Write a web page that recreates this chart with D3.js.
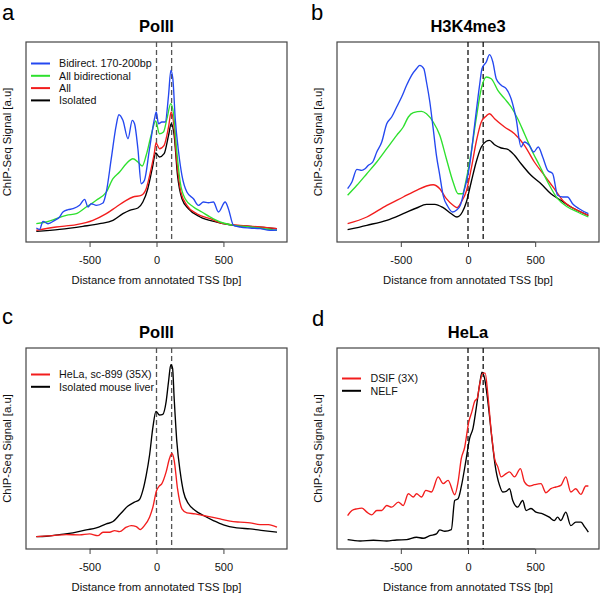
<!DOCTYPE html>
<html><head><meta charset="utf-8">
<script src="https://cdn.jsdelivr.net/npm/d3@7"></script>
<style>body{margin:0;background:#fff}svg{display:block}text{font-family:"Liberation Sans",Arial,sans-serif}</style>
</head><body><svg id="c" width="600" height="595"></svg>
<script>
// ---------- data (bp, signal a.u.) ----------
const xTicks = [-500, 0, 500];
const markerLines = [0, 113];

// Panel a: PolII
const aBidirect = [[-898,14],[-873,12.7],[-848,20.7],[-811,18.3],[-761,21.7],[-724,25],[-699,30],[-661,32.3],[-624,33.3],[-575,36.7],[-537,42.7],[-512,35],[-487,38.3],[-450,36.7],[-400,39],[-375,50],[-338,83.3],[-301,116.7],[-281,127.3],[-251,121.7],[-213,103.3],[-181,121.7],[-164,118.3],[-139,93.3],[-114,58.3],[-90,61.7],[-52,93.3],[-15,123.3],[-2,130],[15,118.3],[40,120],[65,120],[90,146.7],[107,171.7],[122,163.3],[140,123.3],[165,90],[190,66.7],[227,50],[276,43.3],[313,36.7],[351,40],[388,39.3],[425,40],[463,30],[513,40],[537,33.3],[575,16.7],[625,15],[699,14],[774,13.3],[848,11.7],[900,12]];
const aAllBidir = [[-898,18.3],[-823,20],[-749,23.3],[-674,26.7],[-599,28.3],[-525,35],[-450,41.7],[-375,50],[-325,63.3],[-276,70],[-226,78.3],[-176,83.3],[-139,80],[-107,76],[-77,86.7],[-40,106.7],[-6,121],[22,108.3],[52,110],[78,123.3],[107,138.3],[127,128.3],[152,90],[177,60],[214,43.3],[276,35],[339,30],[401,25],[475,20],[575,16.7],[699,15],[900,11.7]];
const aAll = [[-898,11.7],[-749,15],[-599,17.3],[-475,21.7],[-375,28.3],[-301,35],[-226,41.7],[-176,45],[-114,46.7],[-77,53.3],[-40,73.3],[-15,90],[-4,99],[22,93.3],[57,96.7],[90,115],[110,130],[127,120],[152,80],[182,50],[227,36.7],[301,28.3],[401,23.3],[500,18.3],[625,16.7],[774,15],[900,13.3]];
const aIsolated = [[-898,10.7],[-724,12.7],[-550,15.7],[-425,18.3],[-325,21.7],[-251,28.3],[-201,31.7],[-139,34],[-102,40],[-65,53.3],[-32,73.3],[-6,89],[22,85],[57,88.3],[90,106.7],[110,118.3],[132,106.7],[157,66.7],[190,43.3],[239,33.3],[326,25],[450,20],[575,16.7],[699,15.7],[900,13.3]];

// Panel b: H3K4me3
const bBidirect = [[-896,53.3],[-864,60],[-827,72.7],[-790,71.7],[-766,73.3],[-741,76.7],[-709,80],[-679,90],[-642,100],[-605,118.3],[-568,125],[-531,135],[-494,145],[-457,156.7],[-420,166.7],[-383,173.3],[-359,176.7],[-329,173.3],[-309,160],[-284,140],[-259,113.3],[-235,86.7],[-210,66.7],[-185,46.7],[-148,35],[-116,30],[-87,31.7],[-57,36.7],[-25,53.3],[-9,62],[12,76.7],[49,116.7],[86,156.7],[104,173.3],[136,180],[160,187.3],[185,180],[210,163.3],[247,156.7],[284,153.3],[321,143.3],[358,123.3],[395,95],[420,100],[456,96.7],[489,90],[523,95],[556,85],[593,71.7],[630,68.3],[667,46.7],[704,45],[741,45],[778,38.3],[827,33.3],[896,28.3]];
const bAllBidir = [[-896,46.7],[-827,56.7],[-753,68.3],[-679,80],[-605,93.3],[-531,106.7],[-482,115],[-444,125],[-407,129.3],[-346,130.7],[-309,128.3],[-259,120],[-210,106.7],[-161,83.3],[-111,60],[-74,48.3],[-42,48.3],[-12,63.3],[24,90],[61,123.3],[99,153.3],[136,165],[173,163.3],[222,151.7],[272,143.3],[321,135],[370,123.3],[420,108.3],[469,93.3],[531,76.7],[593,60],[667,43.3],[741,35],[815,30],[896,25]];
const bAll = [[-896,18.3],[-753,25],[-605,36.7],[-482,45],[-383,51.7],[-309,56],[-259,57.3],[-210,53.3],[-161,43.3],[-111,36.7],[-82,34.3],[-50,40],[-12,51],[24,73.3],[61,100],[99,120],[136,126],[160,128.3],[198,123.3],[272,115],[346,108.3],[420,96.7],[494,80],[568,66.7],[642,53.3],[716,40],[790,33.3],[896,26.7]];
const bIsolated = [[-896,12.3],[-753,16.7],[-605,21.7],[-482,28.3],[-383,34],[-309,37.7],[-247,37.7],[-185,34.3],[-124,28.3],[-82,25],[-42,30],[-12,40],[24,60],[61,80],[99,95],[136,100.7],[160,101.7],[198,97.3],[247,94],[296,92.7],[346,86.7],[395,78.3],[469,66.7],[543,58.3],[617,48.3],[691,41.7],[766,35],[896,26.7]];

// Panel c: PolII
const cHeLa = [[-898,12.3],[-774,13.3],[-674,14.3],[-575,14],[-500,15],[-438,13.3],[-400,16.7],[-350,16.7],[-313,18.3],[-276,17.3],[-226,21.7],[-189,23.3],[-151,22.3],[-122,19.3],[-90,23.3],[-52,31.7],[-27,41.7],[0,58],[20,62.5],[40,65],[72,76.7],[97,90],[115,95],[132,88.3],[157,60],[190,40],[227,36],[289,35],[351,33.3],[413,31.7],[475,30],[550,27.7],[625,26.7],[699,26],[774,24.3],[836,24.3],[900,21.7]];
const cMouse = [[-898,12.3],[-823,12.7],[-724,14.3],[-624,16],[-525,19],[-450,21],[-375,25],[-325,27.3],[-276,34],[-213,42.7],[-164,46.7],[-127,49.3],[-102,58.3],[-77,73.3],[-52,93.3],[-27,121],[-4,137],[22,133.3],[47,134],[72,146.7],[90,166.7],[107,183.3],[120,180],[132,150],[152,106.7],[177,76.7],[202,56.7],[239,45],[289,38.3],[351,33.3],[425,28.3],[500,24],[600,21],[699,20],[798,18.3],[900,16.7]];

// Panel d: HeLa
const dDSIF = [[-896,33.3],[-864,38.3],[-827,40],[-790,40.7],[-753,36.7],[-716,34],[-679,38.3],[-642,38.3],[-605,43.3],[-568,41.7],[-518,46.7],[-482,43.3],[-444,55],[-407,51.7],[-383,55],[-346,51.7],[-314,58.3],[-272,56.7],[-222,71.7],[-185,65],[-148,68.3],[-99,54],[-74,66.7],[-50,90],[-25,101],[5,126],[29,136.7],[49,146.7],[69,150],[86,163.3],[111,175],[128,175],[148,153.3],[173,116.7],[198,90],[222,81.7],[247,71.7],[284,75],[309,76.7],[346,71.7],[390,80],[420,66.7],[457,62.7],[494,64],[543,65],[580,56],[617,60],[654,61.7],[691,63.3],[728,71.7],[765,56.7],[802,60],[840,54.3],[877,62.7],[896,62.7]];
const dNELF = [[-896,9.3],[-803,8],[-704,8.7],[-605,8],[-531,9],[-457,9.3],[-383,11.7],[-333,10.7],[-284,13.3],[-235,15],[-210,19],[-173,17.7],[-124,19.3],[-99,48.3],[-74,50],[-50,62],[-13,90],[12,110],[37,120],[61,140],[86,163.3],[104,176],[123,170],[148,146.7],[178,110],[202,83.3],[235,63.3],[259,56.7],[284,57.3],[309,60],[333,48.3],[370,41.7],[407,48.3],[432,38.3],[469,40.3],[506,36.7],[556,35],[605,31.7],[642,28.3],[667,31.7],[691,28.3],[728,36.7],[765,23.3],[802,26.7],[840,26.7],[870,21.7],[896,16.7]];

// ---------- drawing ----------
const COL = {blue:"#2448f0", green:"#2ee02e", red:"#f21d1d", black:"#000000"};
const svg = d3.select("#c");

const panels = [
  {letter:"a", title:"PolII", x0:26, x1:287, y0:42, y1:242, lx:2, ly:20, dash:"#555",
   series:[[aIsolated,COL.black],[aAll,COL.red],[aAllBidir,COL.green],[aBidirect,COL.blue]],
   legend:{x:31, y:63.5, tx:59, items:[["Bidirect. 170-200bp",COL.blue],["All bidirectional",COL.green],["All",COL.red],["Isolated",COL.black]]}},
  {letter:"b", title:"H3K4me3", x0:337, x1:599, y0:42, y1:242, lx:311, ly:20, dash:"#111",
   series:[[bIsolated,COL.black],[bAll,COL.red],[bAllBidir,COL.green],[bBidirect,COL.blue]], legend:null},
  {letter:"c", title:"PolII", x0:26, x1:287, y0:348, y1:549, lx:2, ly:324, dash:"#555",
   series:[[cMouse,COL.black],[cHeLa,COL.red]],
   legend:{x:31, y:374.5, tx:59, items:[["HeLa, sc-899 (35X)",COL.red],["Isolated mouse liver",COL.black]]}},
  {letter:"d", title:"HeLa", x0:337, x1:599, y0:348, y1:549, lx:312, ly:326, dash:"#111",
   series:[[dNELF,COL.black],[dDSIF,COL.red]],
   legend:{x:342, y:378.5, tx:370.5, items:[["DSIF (3X)",COL.red],["NELF",COL.black]]}}
];

panels.forEach(p => {
  const g = svg.append("g");
  const x = d3.scaleLinear().domain([-975, 975]).range([p.x0, p.x1]);
  const y = d3.scaleLinear().domain([0, 200]).range([p.y1, p.y0]);
  const cx = (p.x0 + p.x1) / 2, cy = (p.y0 + p.y1) / 2;

  g.append("text").attr("x", p.lx).attr("y", p.ly).attr("font-size", 22).text(p.letter);
  g.append("text").attr("x", cx).attr("y", p.y0 - 10.5).attr("text-anchor", "middle")
    .attr("font-size", 16.5).attr("font-weight", "bold").text(p.title);

  const ax = g.append("g").attr("transform", `translate(0,${p.y1})`)
    .call(d3.axisBottom(x).tickValues(xTicks).tickSize(5).tickPadding(3).tickFormat(d3.format("d")));
  ax.select(".domain").attr("stroke", "#444").attr("d", `M${x(-500)},0H${x(500)}`);
  ax.selectAll(".tick line").attr("stroke", "#444");
  ax.selectAll(".tick text").attr("font-size", 11).attr("font-family", "Liberation Sans, Arial, sans-serif").attr("fill", "#111")
    .attr("dy", null).attr("y", 21.5);
  ax.selectAll(".tick text").text(d => d < 0 ? "-" + Math.abs(d) : d);

  g.append("text").attr("x", cx).attr("y", p.y1 + 41.5).attr("text-anchor", "middle")
    .attr("font-size", 11.3).attr("fill", "#111").text("Distance from annotated TSS [bp]");
  g.append("text").attr("transform", `translate(${p.x0 - 15.5},${cy}) rotate(-90)`)
    .attr("text-anchor", "middle").attr("font-size", 11.3).attr("fill", "#111").text("ChIP-Seq Signal [a.u]");

  g.append("rect").attr("x", p.x0).attr("y", p.y0).attr("width", p.x1 - p.x0).attr("height", p.y1 - p.y0)
    .attr("fill", "none").attr("stroke", "#444").attr("stroke-width", 1.2);

  markerLines.forEach(v => {
    g.append("line").attr("x1", x(v)).attr("x2", x(v)).attr("y1", p.y0).attr("y2", p.y1)
      .attr("stroke", p.dash).attr("stroke-width", 1.3).attr("stroke-dasharray", "5,3");
  });

  const line = d3.line().x(d => x(d[0])).y(d => y(d[1])).curve(d3.curveMonotoneX);
  p.series.forEach(([data, col]) => {
    g.append("path").datum(data).attr("d", line).attr("fill", "none")
      .attr("stroke", col).attr("stroke-width", 1.35).attr("stroke-linejoin", "round");
  });

  if (p.legend) {
    p.legend.items.forEach(([label, col], i) => {
      const yy = p.legend.y + i * 12.3;
      g.append("line").attr("x1", p.legend.x).attr("x2", p.legend.x + 19).attr("y1", yy).attr("y2", yy)
        .attr("stroke", col).attr("stroke-width", 2);
      g.append("text").attr("x", p.legend.tx).attr("y", yy + 3.8).attr("font-size", 10.7).attr("fill", "#111").text(label);
    });
  }
});
</script></body></html>
